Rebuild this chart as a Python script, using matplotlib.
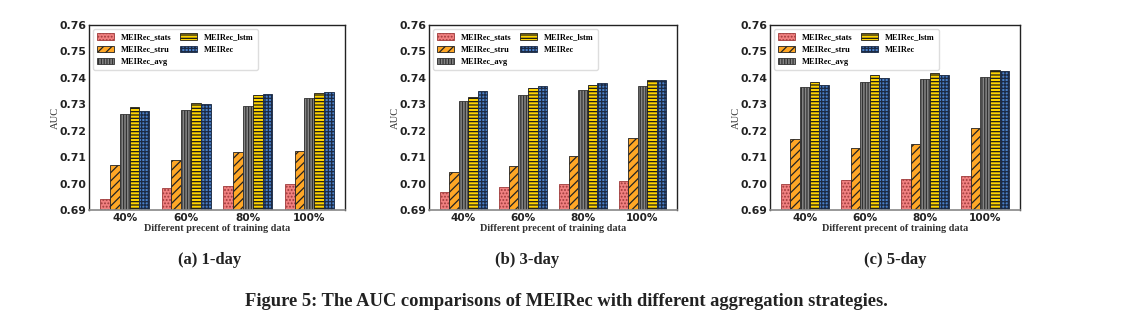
import numpy as np
import matplotlib
matplotlib.use("Agg")
import matplotlib.pyplot as plt

# AUC per training-data fraction, one list per variant, one dict per horizon
groups = ["40%", "60%", "80%", "100%"]
variants = ["MEIRec_stats", "MEIRec_stru", "MEIRec_avg", "MEIRec_lstm", "MEIRec"]

auc_1day = {
    "MEIRec_stats": [0.6942, 0.6982, 0.6991, 0.6998],
    "MEIRec_stru":  [0.7070, 0.7089, 0.7119, 0.7123],
    "MEIRec_avg":   [0.7263, 0.7278, 0.7293, 0.7324],
    "MEIRec_lstm":  [0.7288, 0.7304, 0.7334, 0.7341],
    "MEIRec":       [0.7275, 0.7300, 0.7338, 0.7346],
}
auc_3day = {
    "MEIRec_stats": [0.6968, 0.6987, 0.6998, 0.7010],
    "MEIRec_stru":  [0.7044, 0.7068, 0.7104, 0.7174],
    "MEIRec_avg":   [0.7312, 0.7335, 0.7354, 0.7369],
    "MEIRec_lstm":  [0.7326, 0.7362, 0.7373, 0.7392],
    "MEIRec":       [0.7350, 0.7369, 0.7381, 0.7392],
}
auc_5day = {
    "MEIRec_stats": [0.6998, 0.7013, 0.7017, 0.7030],
    "MEIRec_stru":  [0.7169, 0.7135, 0.7150, 0.7212],
    "MEIRec_avg":   [0.7365, 0.7384, 0.7396, 0.7403],
    "MEIRec_lstm":  [0.7384, 0.7411, 0.7418, 0.7430],
    "MEIRec":       [0.7372, 0.7398, 0.7411, 0.7425],
}
panel_titles = ["(a) 1-day", "(b) 3-day", "(c) 5-day"]

# bar styles: face colour, hatch, hatch/edge colour
styles = {
    "MEIRec_stats": ("#F08080", ".....", "#9E3B3B"),
    "MEIRec_stru":  ("#FFA726", "////", "#222222"),
    "MEIRec_avg":   ("#858585", "||||||", "#333333"),
    "MEIRec_lstm":  ("#FFD400", "-----", "#1A1A1A"),
    "MEIRec":       ("#4A80C8", "+++++", "#1B2A44"),
}

plt.rcParams["hatch.linewidth"] = 0.9
W, H = 1123, 333
fig = plt.figure(figsize=(W / 100, H / 100), dpi=100)

# axes boxes in pixels: left, right (top=25, bottom=210)
boxes = [(89, 345), (429, 677), (770, 1020)]
title_x = [210, 527, 895]
serif = "Liberation Serif"

x = np.arange(len(groups))
bw = 0.16
yt = np.arange(0.69, 0.7601, 0.01)
for k, (data, (l, r)) in enumerate(zip([auc_1day, auc_3day, auc_5day], boxes)):
    ax = fig.add_axes([l / W, (H - 210) / H, (r - l) / W, 185 / H])
    for i, name in enumerate(variants):
        fc, hatch, ec = styles[name]
        ax.bar(x + (i - 2) * bw, data[name], width=bw,
               color=fc, hatch=hatch, edgecolor=ec, linewidth=0.6,
               label=name, zorder=2)
    ax.set_ylim(0.69, 0.76)
    ax.set_xlim(-0.58, 3.58)
    ax.set_yticks(yt)
    ax.set_yticklabels([f"{v:.2f}" for v in yt])
    ax.set_xticks(x)
    ax.set_xticklabels(groups)
    ax.tick_params(axis="both", length=0, pad=2)
    for lab in ax.get_yticklabels():
        lab.set_fontweight("bold")
        lab.set_fontsize(7.8)
        lab.set_color("#222222")
    for lab in ax.get_xticklabels():
        lab.set_fontweight("bold")
        lab.set_fontsize(7.6)
        lab.set_color("#222222")
    ax.grid(axis="y", color="white", linewidth=0.5, alpha=0.35, zorder=3)
    for s in ["top", "left", "right"]:
        ax.spines[s].set_color("#222222")
        ax.spines[s].set_linewidth(1.0)
    ax.spines["bottom"].set_color("#888888")
    ax.spines["bottom"].set_linewidth(1.2)
    ax.set_xlabel("Different precent of training data", fontfamily=serif,
                  fontweight="bold", fontsize=7.4, labelpad=1, color="#333333")
    ax.set_ylabel("AUC", fontfamily=serif, fontsize=7.6, labelpad=-0.5, color="#333333")
    ax.legend(loc="upper left", ncol=2, prop={"family": serif, "weight": "bold", "size": 6},
              frameon=True, fancybox=True, framealpha=1, edgecolor="#dddddd",
              handlelength=2.0, handleheight=0.8, columnspacing=1.1,
              labelspacing=0.5, borderpad=0.5, bbox_to_anchor=(0.0, 1.0))
    fig.text(title_x[k] / W, 1 - 260 / H, panel_titles[k], fontfamily=serif,
             fontweight="bold", fontsize=12, ha="center", va="center", color="#222222")

fig.text(566 / W, 1 - 302 / H,
         "Figure 5: The AUC comparisons of MEIRec with different aggregation strategies.",
         fontfamily=serif, fontweight="bold", fontsize=13.3, ha="center", va="center",
         color="#222222")

fig.savefig("out.png", dpi=100)
